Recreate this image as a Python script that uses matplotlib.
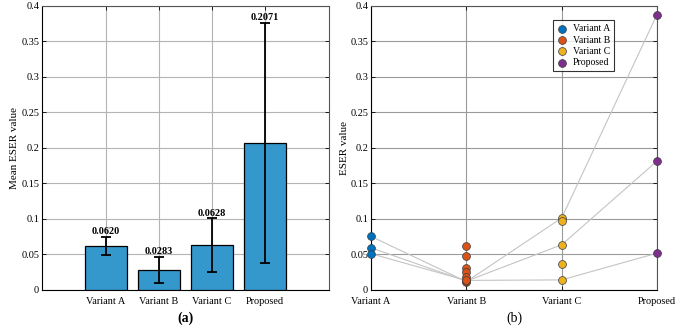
import matplotlib
matplotlib.use("Agg")
import matplotlib.pyplot as plt
import numpy as np

plt.rcParams['font.family'] = ['Liberation Serif', 'DejaVu Serif']

# ---- data ----
categories = ["Variant A", "Variant B", "Variant C", "Proposed"]
mean_values = [0.0620, 0.0283, 0.0628, 0.2071]
std_values = [0.0133, 0.0182, 0.0380, 0.1695]
mean_labels = ["0.0620", "0.0283", "0.0628", "0.2071"]

points_a = [0.0755, 0.0594, 0.0511]
points_b = [0.0623, 0.0472, 0.0316, 0.0260, 0.0189, 0.0118, 0.0125, 0.0135]
points_c = [0.1014, 0.0967, 0.0637, 0.0368, 0.0142]
points_p = [0.3880, 0.1816, 0.0519]

run_1 = [0.0755, 0.0118, 0.1014, 0.3880]
run_2 = [0.0594, 0.0125, 0.0637, 0.1816]
run_3 = [0.0511, 0.0135, 0.0142, 0.0519]

y_ticks = [0, 0.05, 0.1, 0.15, 0.2, 0.25, 0.3, 0.35, 0.4]
y_ticklabels = ["0", "0.05", "0.1", "0.15", "0.2", "0.25", "0.3", "0.35", "0.4"]

bar_color = "#3498cd"
point_colors = ["#0072BD", "#D95319", "#EDB120", "#7E2F8E"]
fs = 7.4

fig = plt.figure(figsize=(6.8, 3.31), dpi=100)
axL = fig.add_axes([0.0618, 0.1239, 0.4220, 0.8580])
axR = fig.add_axes([0.5456, 0.1239, 0.4206, 0.8580])

# ---- left: bar chart ----
x = np.arange(1, len(categories) + 1)
axL.bar(x, mean_values, width=0.8, color=bar_color, edgecolor="black",
        linewidth=0.9, zorder=3)
axL.errorbar(x, mean_values, yerr=std_values, fmt="none", ecolor="black",
             elinewidth=1.3, capsize=3.5, capthick=1.3, zorder=4)
for xi, m, s, lab in zip(x, mean_values, std_values, mean_labels):
    axL.text(xi, m + s + 0.001, lab, ha="center", va="bottom",
             fontsize=fs, fontweight="bold", zorder=5)
axL.set_xlim(-0.2, 5.2)
axL.set_ylim(0, 0.4)
axL.set_xticks(x)
axL.set_xticklabels(categories)
axL.set_yticks(y_ticks)
axL.set_yticklabels(y_ticklabels)
axL.set_ylabel("Mean ESER value", fontsize=fs + 0.6, labelpad=2)
axL.set_xlabel("(a)", fontsize=10, fontweight="bold", labelpad=4)

# ---- right: paired points ----
for run in (run_1, run_2, run_3):
    axR.plot(x, run, color="#c4c4c4", linewidth=0.8, zorder=2, clip_on=False)
groups = [points_a, points_b, points_c, points_p]
for xi, pts, col, name in zip(x, groups, point_colors, categories):
    axR.scatter(np.full(len(pts), xi), pts, s=32, color=col,
                edgecolor="#3a3a3a", linewidth=0.5, zorder=4, clip_on=False,
                label=name)
axR.set_xlim(1, 4)
axR.set_ylim(0, 0.4)
axR.set_xticks(x)
axR.set_xticklabels(categories)
axR.set_yticks(y_ticks)
axR.set_yticklabels(y_ticklabels)
axR.set_ylabel("ESER value", fontsize=fs + 0.6, labelpad=1)
axR.set_xlabel("(b)", fontsize=10, labelpad=4)
leg = axR.legend(loc="upper right", bbox_to_anchor=(0.85, 0.95), fontsize=7,
                 frameon=True, fancybox=False, edgecolor="black",
                 borderpad=0.4, labelspacing=0.25, handletextpad=0.5,
                 handlelength=1.2, borderaxespad=0)
leg.get_frame().set_linewidth(0.8)

for ax, gc in ((axL, "#b4b4b4"), (axR, "#9a9a9a")):
    ax.grid(True, color=gc, linewidth=0.8, zorder=0)
    ax.set_axisbelow(True)
    ax.tick_params(direction="in", length=3, width=0.6, labelsize=fs,
                   top=True, right=True)
    ax.tick_params(axis="x", pad=5)
    ax.tick_params(axis="y", pad=2)
    for sp in ax.spines.values():
        sp.set_linewidth(0.8)
        sp.set_color("black")
    ax.spines["top"].set_color("#555555")
    ax.spines["right"].set_color("#555555")

fig.savefig("out.png", dpi=100)
